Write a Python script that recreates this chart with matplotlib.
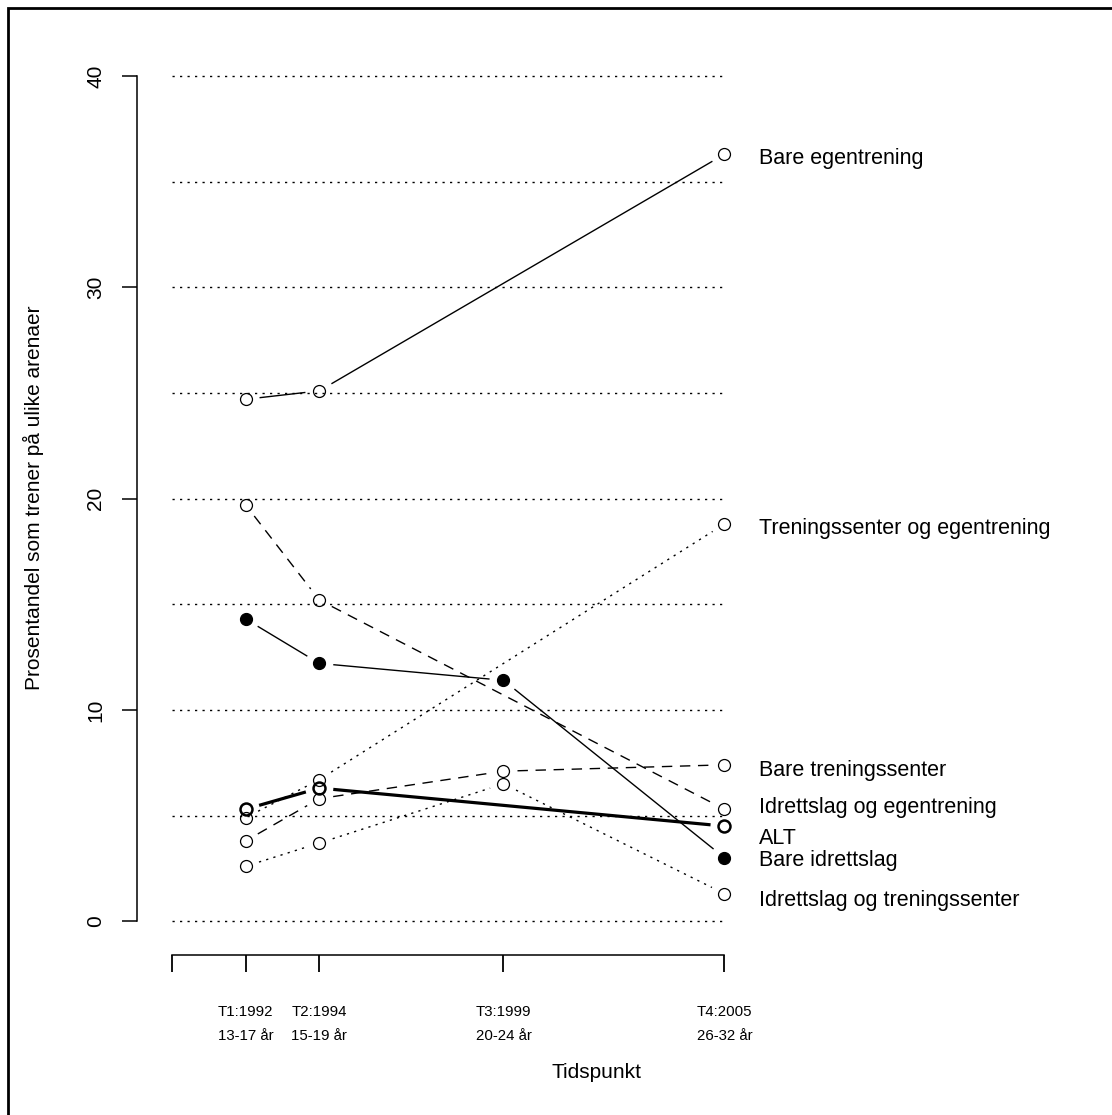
import numpy as np
import matplotlib
matplotlib.use('Agg')
import matplotlib.pyplot as plt
from matplotlib.patches import Rectangle

plt.rcParams['font.family'] = ['Liberation Sans', 'DejaVu Sans']

# tidspunkt
years = [1992, 1994, 1999, 2005]
tick_top = ['T1:1992', 'T2:1994', 'T3:1999', 'T4:2005']
tick_bottom = ['13-17 år', '15-19 år', '20-24 år', '26-32 år']

# prosentandel per arena (nan = ingen verdi)
bare_egen = [24.7, 25.1, np.nan, 36.3]
tren_egen = [4.9, 6.7, np.nan, 18.8]
bare_tren = [3.8, 5.8, 7.1, 7.4]
idr_egen = [19.7, 15.2, np.nan, 5.3]
alt = [5.3, 6.3, np.nan, 4.5]
bare_idr = [14.3, 12.2, 11.4, 3.0]
idr_tren = [2.6, 3.7, 6.5, 1.3]

names = ['Bare egentrening', 'Treningssenter og egentrening', 'Bare treningssenter',
         'Idrettslag og egentrening', 'ALT', 'Bare idrettslag', 'Idrettslag og treningssenter']
label_y = [36.2, 18.7, 7.25, 5.5, 4.05, 3.0, 1.1]

dotted = (0, (1.6, 3.8))
dashed = (0, (7.5, 5.5))
# (serie, linjestil, linjebredde, fylt, kantbredde)
series = [
    (bare_egen, '-', 1.0, False, 0.9),
    (tren_egen, dotted, 1.0, False, 0.9),
    (bare_tren, dashed, 1.0, False, 0.9),
    (idr_egen, dashed, 1.0, False, 0.9),
    (alt, '-', 2.3, False, 1.8),
    (bare_idr, '-', 1.0, True, 0.9),
    (idr_tren, dotted, 1.0, False, 0.9),
]

fig = plt.figure(figsize=(11.12, 11.15), dpi=100)
ax = fig.add_axes([137/1112, 1 - 955/1115, 919/1112, 912.8/1115])
ax.set_xlim(1989.05, 2014)
ax.set_ylim(-1.6, 41.6)

# rammen rundt
fig.patches.append(Rectangle((8/1112, -0.05), 1.2, 1 - 8/1115 + 0.05, transform=fig.transFigure,
                             fill=False, lw=2, ec='black'))

# hjelpelinjer
ax.hlines(np.arange(0, 41, 5), 1990, 2005, colors='black', lw=1.0, linestyles=[dotted])


def gapped(xs, ys, gap=14, **kw):
    # R type="b": linjene stopper litt foer punktene
    pts = ax.transData.transform(np.column_stack([xs, ys]))
    inv = ax.transData.inverted()
    for p0, p1 in zip(pts[:-1], pts[1:]):
        d = p1 - p0
        L = np.hypot(*d)
        if L <= 2 * gap:
            continue
        u = d / L
        seg = inv.transform(np.array([p0 + u * gap, p1 - u * gap]))
        ax.plot(seg[:, 0], seg[:, 1], color='black', solid_capstyle='butt', **kw)


for (vals, ls, lw, filled, mew), name, ly in zip(series, names, label_y):
    v = np.array(vals, dtype=float)
    x = np.array(years, dtype=float)
    ok = ~np.isnan(v)
    gapped(x[ok], v[ok], ls=ls, lw=lw)
    ax.plot(x[ok], v[ok], ls='none', marker='o', ms=8.6, mew=mew, mec='black',
            mfc='black' if filled else 'none', zorder=3)
    ax.annotate(name, (2005, ly), xytext=(25, 0), textcoords='offset points',
                fontsize=15.5, va='center_baseline', ha='left', annotation_clip=False)

# akser
for s in ['top', 'right']:
    ax.spines[s].set_visible(False)
ax.spines['left'].set_bounds(0, 40)
ax.spines['bottom'].set_bounds(1990, 2005)
ax.spines['left'].set_linewidth(1.1)
ax.spines['bottom'].set_linewidth(1.1)

ax.set_yticks([0, 10, 20, 30, 40])
ax.set_yticklabels(['0', '10', '20', '30', '40'], rotation=90, va='center')
ax.tick_params(axis='y', length=11, width=1.1, labelsize=15, pad=12)

ax.set_xticks([1990] + years)
ax.set_xticklabels([''] * 5)
ax.tick_params(axis='x', length=12, width=1.3)
for yr, t1, t2 in zip(years, tick_top, tick_bottom):
    ax.text(yr, -0.0624, t1, transform=ax.get_xaxis_transform(), ha='center', va='center', fontsize=10.8)
    ax.text(yr, -0.0887, t2, transform=ax.get_xaxis_transform(), ha='center', va='center', fontsize=10.8)

fig.text(597/1112, 1 - 1073/1115, 'Tidspunkt', ha='center', va='center', fontsize=15)
fig.text(33/1112, 1 - 498/1115, 'Prosentandel som trener på ulike arenaer', ha='center', va='center',
         rotation=90, fontsize=15)

fig.savefig('out.png', dpi=100)
